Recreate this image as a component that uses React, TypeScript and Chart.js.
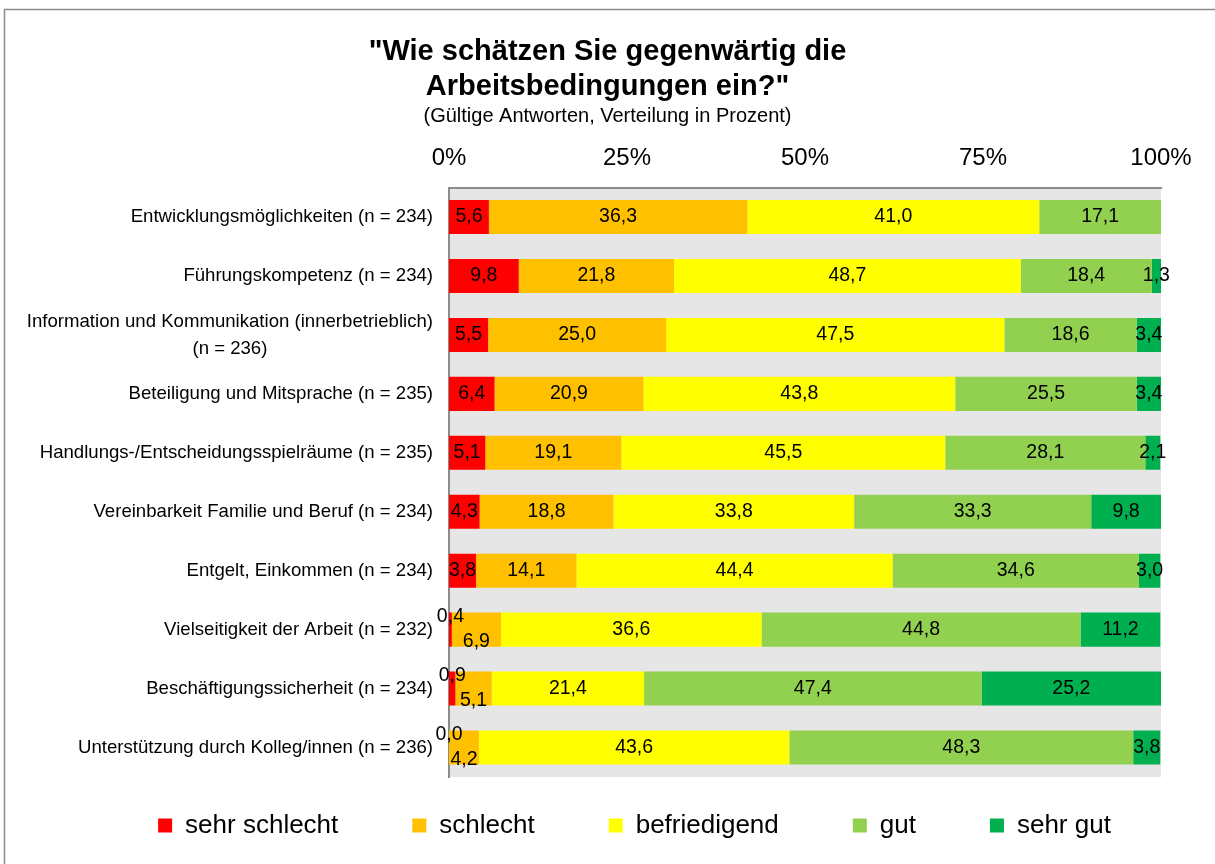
import React, { useEffect, useRef } from 'react';
import { Chart, registerables } from 'chart.js';

Chart.register(...registerables);

const FONT = "'Liberation Sans', Arial, Helvetica, sans-serif";

const titleLines = ['"Wie schätzen Sie gegenwärtig die', 'Arbeitsbedingungen ein?"'];
const subtitleText = '(Gültige Antworten, Verteilung in Prozent)';

const categories: (string | string[])[] = [
  'Entwicklungsmöglichkeiten (n = 234)',
  'Führungskompetenz (n = 234)',
  ['Information und Kommunikation (innerbetrieblich)', '(n = 236)'],
  'Beteiligung und Mitsprache (n = 235)',
  'Handlungs-/Entscheidungsspielräume (n = 235)',
  'Vereinbarkeit Familie und Beruf (n = 234)',
  'Entgelt, Einkommen (n = 234)',
  'Vielseitigkeit der Arbeit (n = 232)',
  'Beschäftigungssicherheit (n = 234)',
  'Unterstützung durch Kolleg/innen (n = 236)',
];

const seriesNames = ['sehr schlecht', 'schlecht', 'befriedigend', 'gut', 'sehr gut'];
const seriesColors = ['#ff0000', '#ffc000', '#ffff00', '#92d050', '#00b050'];

const sehrSchlecht = [5.6, 9.8, 5.5, 6.4, 5.1, 4.3, 3.8, 0.4, 0.9, 0.0];
const schlecht = [36.3, 21.8, 25.0, 20.9, 19.1, 18.8, 14.1, 6.9, 5.1, 4.2];
const befriedigend = [41.0, 48.7, 47.5, 43.8, 45.5, 33.8, 44.4, 36.6, 21.4, 43.6];
const gut = [17.1, 18.4, 18.6, 25.5, 28.1, 33.3, 34.6, 44.8, 47.4, 48.3];
const sehrGut: (number | null)[] = [null, 1.3, 3.4, 3.4, 2.1, 9.8, 3.0, 11.2, 25.2, 3.8];

const xMin = 0;
const xMax = 100;
const xStep = 25;

const fmt = (v: number) => v.toFixed(1).replace('.', ',');

const framePlugin = {
  id: 'frame',
  beforeDraw(chart: any) {
    const { ctx, chartArea, width, height } = chart;
    ctx.save();
    ctx.fillStyle = '#e6e6e6';
    ctx.fillRect(chartArea.left, chartArea.top, chartArea.right - chartArea.left, chartArea.bottom - chartArea.top);
    ctx.strokeStyle = '#8c8c8c';
    ctx.lineWidth = 1.5;
    ctx.beginPath();
    ctx.moveTo(4.5, height);
    ctx.lineTo(4.5, 9.5);
    ctx.lineTo(width, 9.5);
    ctx.stroke();
    ctx.restore();
  },
};

const layoutTweakPlugin = {
  id: 'layoutTweak',
  afterLayout(chart: any) {
    const lg = chart.legend;
    if (lg) {
      lg.top -= 38.5;
      lg.left += 27;
      lg.right += 27;
    }
  },
};

const categoryLabelPlugin = {
  id: 'categoryLabels',
  afterDraw(chart: any) {
    const { ctx, chartArea } = chart;
    const yScale = chart.scales.y;
    ctx.save();
    ctx.font = `18.6px ${FONT}`;
    ctx.fillStyle = '#000';
    ctx.textBaseline = 'middle';
    const right = chartArea.left - 16;
    const lh = 27;
    categories.forEach((lab, i) => {
      const y = yScale.getPixelForValue(i);
      if (Array.isArray(lab)) {
        const maxW = Math.max(...lab.map((l) => ctx.measureText(l).width));
        const cx = right - maxW / 2;
        ctx.textAlign = 'center';
        const y0 = y - ((lab.length - 1) * lh) / 2;
        lab.forEach((l, j) => ctx.fillText(l, cx, y0 + j * lh));
      } else {
        ctx.textAlign = 'right';
        ctx.fillText(lab, right, y);
      }
    });
    ctx.restore();
  },
};

const dataLabelPlugin = {
  id: 'dataLabels',
  afterDatasetsDraw(chart: any) {
    const { ctx } = chart;
    ctx.save();
    ctx.font = `19.5px ${FONT}`;
    ctx.fillStyle = '#000';
    ctx.textAlign = 'center';
    ctx.textBaseline = 'middle';
    chart.data.datasets.forEach((ds: any, di: number) => {
      const meta = chart.getDatasetMeta(di);
      meta.data.forEach((bar: any, i: number) => {
        const v = ds.data[i];
        if (v === null || v === undefined) return;
        const { x, base, y } = bar.getProps(['x', 'base', 'y'], true);
        const cx = (x + base) / 2;
        let cy = y;
        if (di === 0 && v < 1) cy -= 13;
        if (di === 1 && sehrSchlecht[i] < 1) cy += 12;
        ctx.fillText(fmt(v), cx, cy);
      });
    });
    ctx.restore();
  },
};

export default function App() {
  const ref = useRef<HTMLCanvasElement>(null);

  useEffect(() => {
    document.body.style.margin = '0';
    const seriesData = [sehrSchlecht, schlecht, befriedigend, gut, sehrGut];
    const chart = new Chart(ref.current as HTMLCanvasElement, {
      type: 'bar',
      data: {
        labels: categories.map((c) => (Array.isArray(c) ? c.join(' ') : c)),
        datasets: seriesNames.map((name, k) => ({
          label: name,
          data: seriesData[k],
          backgroundColor: seriesColors[k],
          borderWidth: 0,
          barPercentage: 0.578,
          categoryPercentage: 1,
        })),
      },
      options: {
        indexAxis: 'y',
        animation: false,
        responsive: true,
        maintainAspectRatio: false,
        events: [],
        layout: { padding: { top: 35, left: 0, right: 0, bottom: 0 } },
        font: { family: FONT },
        color: '#000',
        scales: {
          x: {
            type: 'linear',
            position: 'top',
            stacked: true,
            min: xMin,
            max: xMax,
            ticks: {
              stepSize: xStep,
              padding: 15.1,
              color: '#000',
              font: { family: FONT, size: 24 },
              callback: (v: any) => `${v}%`,
            },
            grid: { display: false, drawTicks: false },
            border: { display: true, color: '#8c8c8c', width: 2 },
          },
          y: {
            type: 'category',
            position: 'left',
            stacked: true,
            ticks: { display: false },
            grid: { display: false, drawTicks: false },
            border: { display: true, color: '#8c8c8c', width: 2 },
            afterFit: (s: any) => {
              s.width = 449;
            },
          },
          yRight: {
            type: 'category',
            position: 'right',
            display: true,
            ticks: { display: false },
            grid: { display: false, drawTicks: false },
            border: { display: false },
            afterFit: (s: any) => {
              s.width = 54;
            },
          },
        },
        plugins: {
          title: {
            display: true,
            text: titleLines,
            color: '#000',
            font: { family: FONT, size: 29, weight: 'bold', lineHeight: 1.2 },
            padding: { top: 0, bottom: 0 },
          },
          subtitle: {
            display: true,
            text: subtitleText,
            color: '#000',
            font: { family: FONT, size: 20, lineHeight: 1.2 },
            padding: { top: 0, bottom: 0 },
          },
          legend: {
            display: true,
            position: 'bottom',
            align: 'center',
            maxHeight: 87,
            labels: {
              color: '#000',
              font: { family: FONT, size: 26 },
              boxWidth: 14,
              boxHeight: 14,
              padding: 74,
            },
          },
          tooltip: { enabled: false },
        },
      } as any,
      plugins: [framePlugin, layoutTweakPlugin, categoryLabelPlugin, dataLabelPlugin],
    });
    return () => chart.destroy();
  }, []);

  return (
    <div style={{ position: 'relative', width: 1215, height: 864 }}>
      <canvas ref={ref} />
    </div>
  );
}
